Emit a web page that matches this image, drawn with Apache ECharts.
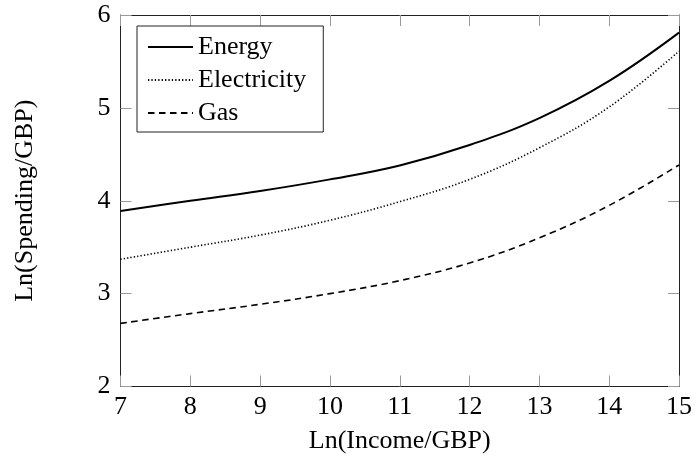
<!DOCTYPE html>
<html>
<head>
<meta charset="utf-8">
<script src="https://cdn.jsdelivr.net/npm/echarts@6/dist/echarts.min.js"></script>
<style>
html, body { margin: 0; padding: 0; background: #fff; }
#container { width: 695px; height: 462px; }
</style>
</head>
<body>
<div id="container"></div>
<script>
let chart = echarts.init(document.getElementById('container'));

// at each integer ln(income)
var incomeLn = [7, 8, 9, 10, 11, 12, 13, 14, 15];
var energy = [3.89, 4.00, 4.105, 4.23, 4.38, 4.60, 4.89, 5.29, 5.81];
var electricity = [3.37, 3.50, 3.63, 3.79, 3.99, 4.23, 4.57, 5.01, 5.61];
var gas = [2.68, 2.785, 2.885, 3.00, 3.14, 3.33, 3.60, 3.95, 4.385];

var xTicks = [7, 8, 9, 10, 11, 12, 13, 14, 15];
var yTicks = [2, 3, 4, 5, 6];

var font = 'Liberation Serif';

function pairs(ys) {
    var out = [];
    for (var i in incomeLn) {
        out.push([incomeLn[i], ys[i]]);
    }
    return out;
}

var frameAxis = {
    type: 'value',
    axisLine: { show: true, onZero: false, lineStyle: { color: '#222', width: 1 } },
    axisTick: { show: true, inside: true, length: 11, lineStyle: { color: '#999', width: 1 } },
    splitLine: { show: false },
};

var option = {
    backgroundColor: '#fff',
    animation: false,
    grid: {
        left: 120.5,
        right: 14,
        top: 15,
        bottom: 75.5,
    },
    legend: {
        orient: 'vertical',
        left: 137,
        top: 26,
        padding: [8, 17, 6, 10],
        itemWidth: 45,
        itemHeight: 26,
        itemGap: 7,
        borderColor: '#222',
        borderWidth: 1,
        backgroundColor: '#fff',
        itemStyle: { opacity: 0 },
        textStyle: { fontFamily: font, fontSize: 26, color: '#000' },
        data: ['Energy', 'Electricity', 'Gas'],
    },
    xAxis: [
        Object.assign({}, frameAxis, {
            position: 'bottom',
            min: 7, max: 15, interval: 1,
            name: 'Ln(Income/GBP)',
            nameLocation: 'middle',
            nameGap: 42,
            nameTextStyle: { fontFamily: font, fontSize: 26, color: '#000' },
            axisLabel: {
                fontFamily: font, fontSize: 26, color: '#000', margin: 8,
                formatter: function(v){ return xTicks.indexOf(v) >= 0 ? String(v) : ''; }
            },
        }),
        Object.assign({}, frameAxis, {
            position: 'top',
            min: 7, max: 15, interval: 1,
            axisLabel: { show: false },
        }),
    ],
    yAxis: [
        Object.assign({}, frameAxis, {
            position: 'left',
            min: 2, max: 6, interval: 1,
            name: 'Ln(Spending/GBP)',
            nameLocation: 'middle',
            nameGap: 82,
            nameTextStyle: { fontFamily: font, fontSize: 26, color: '#000' },
            axisLabel: {
                fontFamily: font, fontSize: 26, color: '#000', margin: 10,
                formatter: function(v){ return yTicks.indexOf(v) >= 0 ? String(v) : ''; }
            },
        }),
        Object.assign({}, frameAxis, {
            position: 'right',
            min: 2, max: 6, interval: 1,
            axisLabel: { show: false },
        }),
    ],
    series: [
        {
            name: 'Energy', type: 'line', smooth: 0.4, symbol: 'none',
            lineStyle: { color: '#000', width: 2, type: 'solid' },
            itemStyle: { color: '#000' },
            data: pairs(energy),
        },
        {
            name: 'Electricity', type: 'line', smooth: 0.4, symbol: 'none',
            lineStyle: { color: '#000', width: 1.6, type: [1.3, 2.1] },
            itemStyle: { color: '#000' },
            data: pairs(electricity),
        },
        {
            name: 'Gas', type: 'line', smooth: 0.4, symbol: 'none',
            lineStyle: { color: '#000', width: 1.6, type: [6.5, 4.5] },
            itemStyle: { color: '#000' },
            data: pairs(gas),
        },
    ],
};

chart.setOption(option);
</script>
</body>
</html>
